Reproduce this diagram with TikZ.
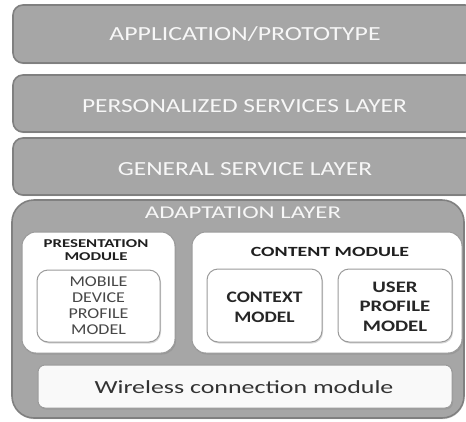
\documentclass[tikz,border=0pt]{standalone}
\usepackage{fontspec}
\setmainfont{Carlito}
\usetikzlibrary{shadows}
\definecolor{layerfill}{HTML}{A6A6A6}
\definecolor{layerdraw}{HTML}{808080}
\definecolor{boxdraw}{HTML}{9A9A9A}
\definecolor{darktext}{HTML}{333333}
\newcommand\hs[2]{\scalebox{#1}[1]{#2}}
\newcommand\stk[1]{\begin{tabular}[t]{@{}c@{}}#1\end{tabular}}
\begin{document}
\begin{tikzpicture}[x=1pt,y=-1pt,
  layer/.style={draw=layerdraw,line width=1.6pt,fill=layerfill,rounded corners=10pt,inner sep=0pt,
     drop shadow={shadow xshift=0.5pt,shadow yshift=-1.2pt,opacity=0.3}},
  module/.style={draw=boxdraw,line width=1pt,fill=white,rounded corners=14pt,inner sep=0pt,
     drop shadow={shadow xshift=1pt,shadow yshift=-1.5pt,opacity=0.35}},
  inbox/.style={draw=boxdraw,line width=1pt,fill=white,rounded corners=11pt,inner sep=0pt,
     drop shadow={shadow xshift=1pt,shadow yshift=-1.5pt,opacity=0.3}},
  txt/.style={inner sep=0pt,anchor=base},
  layertext/.style={txt,text=white!94!gray,font=\fontsize{20}{22}\selectfont},
  titletext/.style={txt,text=black!88,font=\bfseries},
  bodytext/.style={txt,text=darktext}]
\useasboundingbox (0,0) rectangle (466,421);
\clip (0,0) rectangle (466,421);
\fill[white] (0,0) rectangle (466,421);
% top layers
\node[layer,minimum width=462pt,minimum height=58pt] (app) at (244,34) {};
\node[layertext] (appt) at (245,40) {\hs{1.29}{APPLICATION/PROTOTYPE}};
\node[layer,minimum width=462pt,minimum height=57pt] (pers) at (244,103.5) {};
\node[layertext] (perst) at (244.5,112) {\hs{1.27}{PERSONALIZED SERVICES LAYER}};
\node[layer,minimum width=462pt,minimum height=57pt] (gen) at (244,166.5) {};
\node[layertext] (gent) at (245,175) {\hs{1.27}{GENERAL SERVICE LAYER}};
% adaptation layer
\node[layer,rounded corners=22pt,minimum width=452pt,minimum height=218pt] (adapt) at (238,309) {};
\node[layertext,font=\fontsize{18}{20}\selectfont] (adaptt) at (243,218.5) {\hs{1.38}{ADAPTATION LAYER}};
% presentation module
\node[module,minimum width=153pt,minimum height=121pt] (pres) at (98.5,292.5) {};
\node[titletext,font=\bfseries\fontsize{12}{13}\selectfont] (prest) at (96,247.5) {\hs{1.4}{\stk{PRESENTATION\\MODULE}}};
\node[inbox,minimum width=123pt,minimum height=72pt] (mob) at (98.5,306) {};
\node[bodytext,text=black!72,font=\fontsize{15}{16.3}\selectfont] (mobt) at (98.5,286) {\hs{1.2}{\stk{MOBILE\\DEVICE\\PROFILE\\MODEL}}};
% content module
\node[module,minimum width=270pt,minimum height=121pt] (cont) at (327,292.5) {};
\node[titletext,font=\bfseries\fontsize{14}{15}\selectfont] (contt) at (330,256) {\hs{1.42}{CONTENT MODULE}};
\node[inbox,minimum width=115pt,minimum height=73pt] (ctx) at (264.5,305.5) {};
\node[bodytext,text=black!85,font=\bfseries\fontsize{16}{20}\selectfont] (ctxt) at (264.5,302) {\hs{1.22}{\stk{CONTEXT\\MODEL}}};
\node[inbox,minimum width=114pt,minimum height=73pt] (usr) at (395,305.5) {};
\node[bodytext,text=black!85,font=\bfseries\fontsize{16}{19.5}\selectfont] (usrt) at (395,292) {\hs{1.3}{\stk{USER\\PROFILE\\MODEL}}};
% wireless
\node[inbox,rounded corners=7pt,minimum width=414pt,minimum height=43pt,fill=white!95!gray] (wl) at (245,386.5) {};
\node[bodytext,font=\fontsize{18.5}{20}\selectfont] (wlt) at (244,393) {\hs{1.4}{Wireless connection module}};
\end{tikzpicture}
\end{document}
